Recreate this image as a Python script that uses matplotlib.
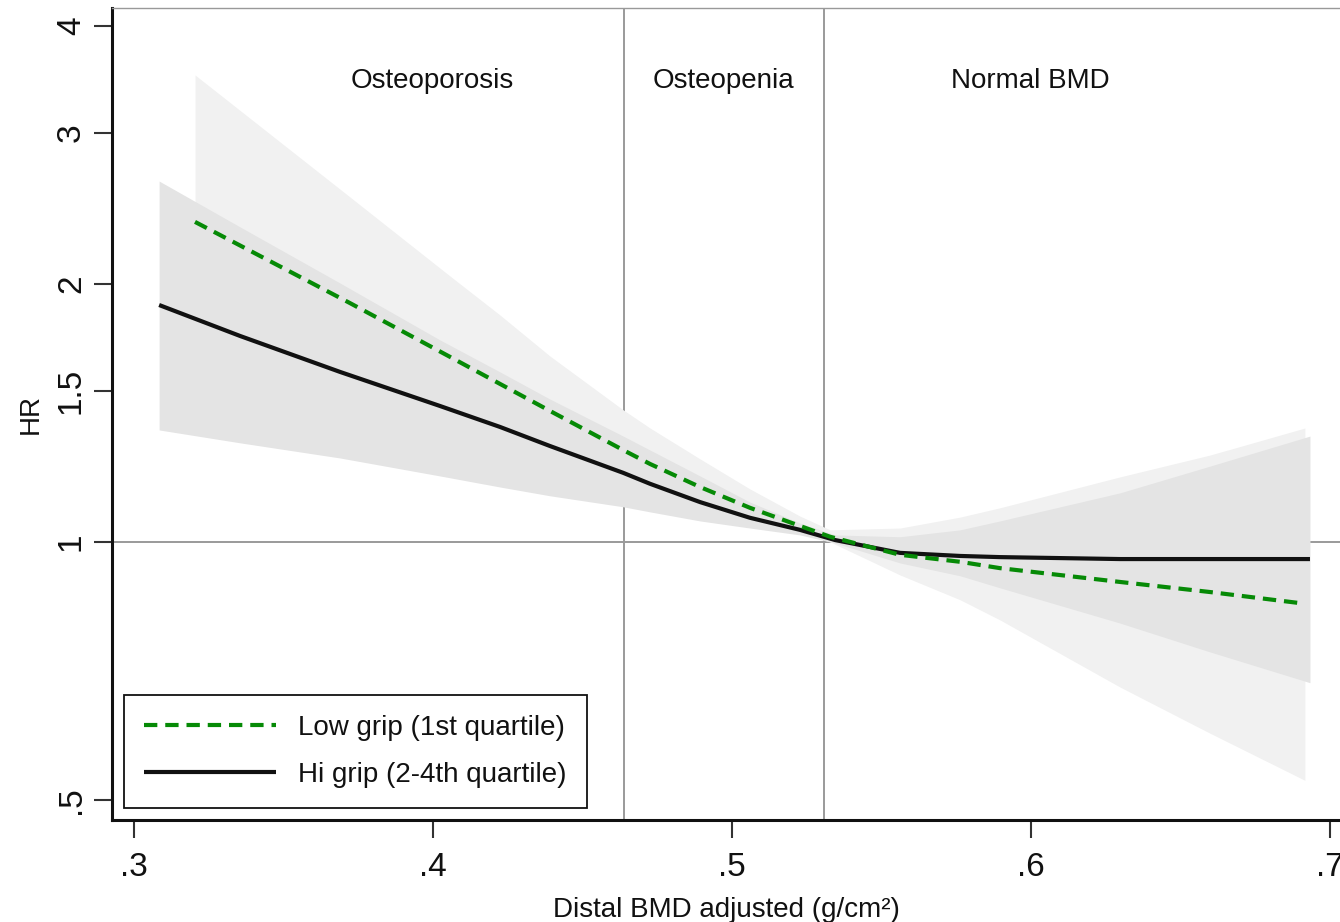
import matplotlib
matplotlib.use('Agg')
import matplotlib.pyplot as plt
from matplotlib.ticker import NullLocator, FixedLocator, FixedFormatter

plt.rcParams['font.family'] = ['Liberation Sans', 'DejaVu Sans']

# ---- data ----
hi_x = [0.3084, 0.3355, 0.3689, 0.4023, 0.4224, 0.4391, 0.4636, 0.4726, 0.4893,
        0.5060, 0.5227, 0.5345, 0.5562, 0.5763, 0.5896, 0.6298, 0.6599, 0.6933]
hi_hr = [1.890, 1.739, 1.579, 1.441, 1.362, 1.294, 1.204, 1.169, 1.113,
         1.067, 1.033, 1.005, 0.971, 0.963, 0.960, 0.955, 0.955, 0.955]
hi_upper = [2.637, 2.331, 2.005, 1.721, 1.579, 1.468, 1.329, 1.280, 1.194,
            1.113, 1.052, 1.019, 1.014, 1.033, 1.058, 1.141, 1.226, 1.329]
hi_lower = [1.351, 1.305, 1.253, 1.194, 1.159, 1.132, 1.099, 1.084, 1.058,
            1.038, 1.019, 0.997, 0.945, 0.913, 0.884, 0.804, 0.744, 0.685]

low_x = [0.3204, 0.3722, 0.4057, 0.4224, 0.4391, 0.4636, 0.4726, 0.4893, 0.5060,
         0.5227, 0.5328, 0.5562, 0.5763, 0.5896, 0.6298, 0.6599, 0.6916]
low_hr = [2.363, 1.900, 1.644, 1.529, 1.422, 1.280, 1.233, 1.159, 1.096,
          1.044, 1.014, 0.966, 0.948, 0.932, 0.898, 0.874, 0.847]
low_upper = [3.507, 2.527, 2.043, 1.840, 1.648, 1.426, 1.358, 1.250, 1.153,
             1.072, 1.033, 1.038, 1.069, 1.096, 1.191, 1.263, 1.358]
low_lower = [1.369, 1.274, 1.213, 1.181, 1.150, 1.113, 1.099, 1.069, 1.047,
             1.024, 1.000, 0.915, 0.856, 0.811, 0.677, 0.598, 0.527]

cutoffs = [0.4639, 0.5308]
zone_labels = ['Osteoporosis', 'Osteopenia', 'Normal BMD']
zone_x = [0.3997, 0.4973, 0.5997]

series_labels = ['Low grip (1st quartile)', 'Hi grip (2-4th quartile)']

x_ticks = [0.3, 0.4, 0.5, 0.6, 0.7]
x_ticklabels = ['.3', '.4', '.5', '.6', '.7']
y_ticks = [0.5, 1, 1.5, 2, 3, 4]
y_ticklabels = ['.5', '1', '1.5', '2', '3', '4']

# ---- figure ----
fig = plt.figure(figsize=(13.4, 9.22), dpi=100)
ax = fig.add_axes([112 / 1340, 102 / 922, 1228 / 1340, 812 / 922])
ax.set_yscale('log')
ax.set_xlim(0.29264, 0.70334)
ax.set_ylim(0.4737, 4.198)

grid_c = '#9a9a9a'
ax.axhline(1, color=grid_c, lw=1.4, zorder=1)
for c in cutoffs:
    ax.axvline(c, color=grid_c, lw=1.4, zorder=1)

ax.fill_between(low_x, low_lower, low_upper, color='#f1f1f1', lw=0, zorder=2)
ax.fill_between(hi_x, hi_lower, hi_upper, color='#e4e4e4', lw=0, zorder=3)

green = '#068a06'
l_hi, = ax.plot(hi_x, hi_hr, color='#111111', lw=3.0, zorder=4,
                solid_capstyle='butt', solid_joinstyle='round')
l_low, = ax.plot(low_x, low_hr, color=green, lw=3.0, zorder=5,
                 dashes=(3.2, 1.9), dash_capstyle='butt')

for zx, zl in zip(zone_x, zone_labels):
    ax.text(zx, 3.451, zl, ha='center', va='center', fontsize=20, color='#111111')

# axes styling
ax.xaxis.set_major_locator(FixedLocator(x_ticks))
ax.xaxis.set_major_formatter(FixedFormatter(x_ticklabels))
ax.yaxis.set_major_locator(FixedLocator(y_ticks))
ax.yaxis.set_major_formatter(FixedFormatter(y_ticklabels))
ax.yaxis.set_minor_locator(NullLocator())
ax.xaxis.set_minor_locator(NullLocator())
ax.tick_params(axis='both', direction='out', length=13, width=1.5,
               color='#333333', labelsize=24, labelcolor='#111111')
ax.tick_params(axis='x', pad=10)
ax.tick_params(axis='y', pad=5)
for lab in ax.get_yticklabels():
    lab.set_rotation(90)
    lab.set_va('center')

for s in ['left', 'bottom']:
    ax.spines[s].set_linewidth(2.2)
    ax.spines[s].set_color('#111111')
ax.spines['right'].set_visible(False)
ax.spines['top'].set_linewidth(1.0)
ax.spines['top'].set_color('#999999')

ax.set_xlabel('Distal BMD adjusted (g/cm²)', fontsize=20, color='#111111', labelpad=10)
ax.set_ylabel('HR', fontsize=20, color='#111111', labelpad=9)

leg = ax.legend([l_low, l_hi], series_labels, loc='lower left',
                bbox_to_anchor=(0.0098, 0.0148), borderaxespad=0,
                fontsize=20, handlelength=4.75, handletextpad=0.8,
                borderpad=0.72, labelspacing=0.76, fancybox=False,
                framealpha=1, edgecolor='#111111')
leg.get_frame().set_linewidth(1.3)
for t in leg.get_texts():
    t.set_color('#111111')

fig.savefig('out.png', dpi=100)
